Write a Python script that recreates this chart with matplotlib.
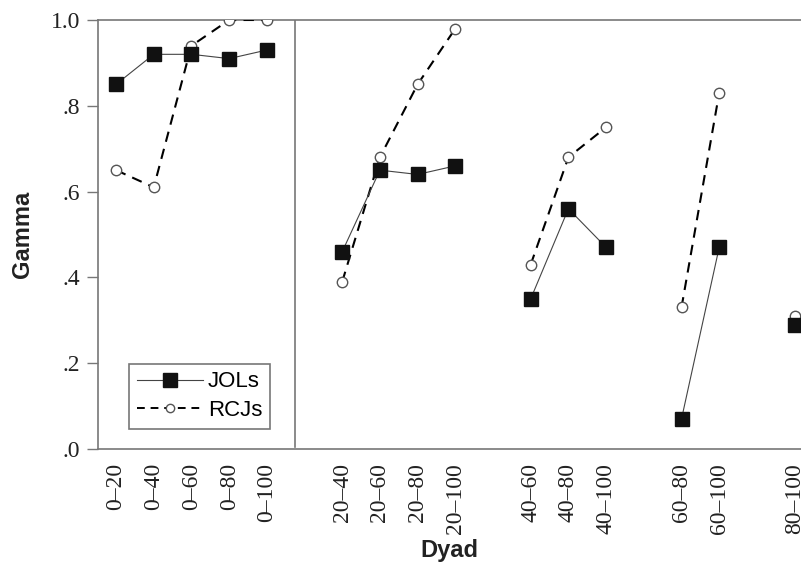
import matplotlib

matplotlib.use("Agg")
import matplotlib.pyplot as plt
from matplotlib.lines import Line2D

# dyad groups: (tick labels, x positions, JOL gammas, RCJ gammas)
dyads_0 = ["0–20", "0–40", "0–60", "0–80", "0–100"]
dyads_20 = ["20–40", "20–60", "20–80", "20–100"]
dyads_40 = ["40–60", "40–80", "40–100"]
dyads_60 = ["60–80", "60–100"]
dyads_80 = ["80–100"]

pos_0 = [0, 1, 2, 3, 4]
pos_20 = [6, 7, 8, 9]
pos_40 = [11, 12, 13]
pos_60 = [15, 16]
pos_80 = [18]

jol_0 = [0.85, 0.92, 0.92, 0.91, 0.93]
rcj_0 = [0.65, 0.61, 0.94, 1.00, 1.00]
jol_20 = [0.46, 0.65, 0.64, 0.66]
rcj_20 = [0.39, 0.68, 0.85, 0.98]
jol_40 = [0.35, 0.56, 0.47]
rcj_40 = [0.43, 0.68, 0.75]
jol_60 = [0.07, 0.47]
rcj_60 = [0.33, 0.83]
jol_80 = [0.29]
rcj_80 = [0.31]

y_ticks = [0.0, 0.2, 0.4, 0.6, 0.8, 1.0]
y_ticklabels = [".0", ".2", ".4", ".6", ".8", "1.0"]

SPINE = "#777777"
SERIF = "Liberation Serif"
SANS = "Liberation Sans"

fig = plt.figure(figsize=(8.01, 5.65), dpi=100)
ax = fig.add_axes([0.1223, 0.2053, 0.8777, 0.7593])

groups = [
    (pos_0, jol_0, rcj_0),
    (pos_20, jol_20, rcj_20),
    (pos_40, jol_40, rcj_40),
    (pos_60, jol_60, rcj_60),
    (pos_80, jol_80, rcj_80),
]
for pos, jol, rcj in groups:
    ax.plot(pos, rcj, color="black", lw=1.5, ls=(0, (5, 3.5)), marker="o",
            ms=7.5, mfc="white", mec="#555555", mew=1.0, zorder=3)
    ax.plot(pos, jol, color="#444444", lw=0.8, ls="-", marker="s",
            ms=9.5, mfc="#111111", mec="#111111", zorder=4)

# separator between the 0-x panel and the rest
ax.plot([4.75, 4.75], [0.005, 1.0], color=SPINE, lw=1.2, zorder=2)

ax.set_xlim(-0.48, 18.17)
ax.set_ylim(0, 1.0)

labels = dyads_0 + dyads_20 + dyads_40 + dyads_60 + dyads_80
positions = pos_0 + pos_20 + pos_40 + pos_60 + pos_80
ax.set_xticks(positions)
ax.set_xticklabels(labels, rotation=90, fontsize=17, family=SERIF, color="#222222")
ax.tick_params(axis="x", length=0, pad=10)

ax.set_yticks(y_ticks)
ax.set_yticklabels(y_ticklabels, fontsize=17, family=SERIF, color="#222222")
ax.tick_params(axis="y", direction="out", length=8, width=1, color=SPINE, pad=5)

for side in ["left", "top", "bottom"]:
    ax.spines[side].set_color(SPINE)
    ax.spines[side].set_linewidth(1.2)
ax.spines["right"].set_visible(False)

ax.set_ylabel("Gamma", fontsize=17, family=SANS, fontweight="bold",
              color="#222222", labelpad=12)
ax.set_xlabel("Dyad", fontsize=17, family=SANS, fontweight="bold",
              color="#222222", labelpad=4)

handles = [
    Line2D([], [], color="#444444", lw=0.8, marker="s", ms=9.5,
           mfc="#111111", mec="#111111"),
    Line2D([], [], color="black", lw=1.4, ls=(0, (4, 3)), marker="o", ms=6,
           mfc="white", mec="#555555"),
]
leg = ax.legend(handles, ["JOLs", "RCJs"], loc="lower left",
                bbox_to_anchor=(0.044, 0.047), borderaxespad=0,
                fancybox=False, framealpha=1,
                edgecolor=SPINE, handlelength=3.0, handletextpad=0.2,
                borderpad=0.35, labelspacing=0.35,
                prop={"family": SANS, "size": 16})
leg.get_frame().set_linewidth(1.2)

fig.savefig("out.png", dpi=100)
